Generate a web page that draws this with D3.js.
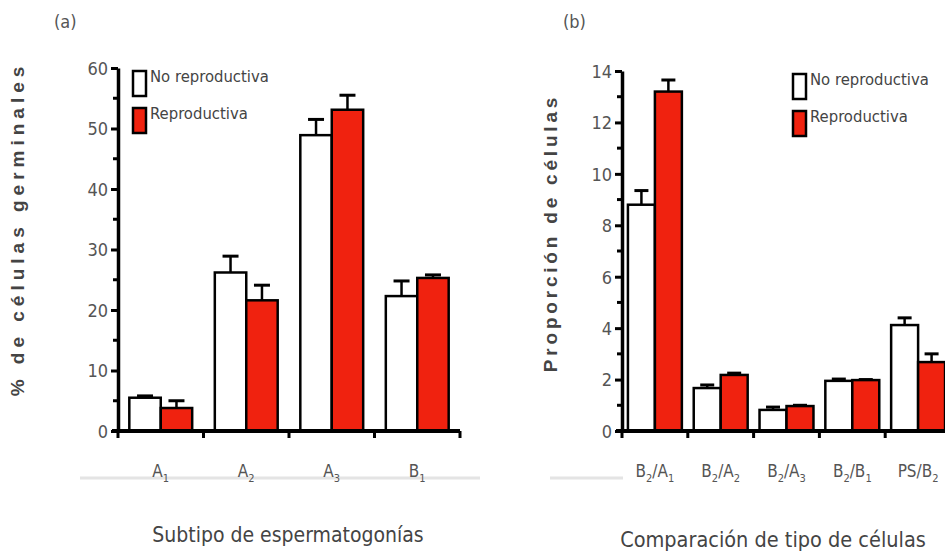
<!DOCTYPE html>
<html><head><meta charset="utf-8">
<script src="https://cdn.jsdelivr.net/npm/d3@7"></script>
<style>
html,body{margin:0;padding:0;background:#fff;}
svg{display:block;}
.narrow{font-family:"DejaVu Sans Condensed","Liberation Sans Narrow",sans-serif;font-stretch:condensed;}
</style>
</head><body>
<svg id="chart" width="945" height="552"></svg>
<script>
// ---------- DATA ----------
const seriesNames = ["No reproductiva", "Reproductiva"];
// Panel (a)
const catsA = [["A","1"],["A","2"],["A","3"],["B","1"]];
const noRepA = [5.5, 26.2, 48.9, 22.3];
const noRepAErr = [0.3, 2.7, 2.6, 2.5];
const repA = [3.8, 21.6, 53.1, 25.3];
const repAErr = [1.2, 2.5, 2.4, 0.5];
const ticksA = [0, 10, 20, 30, 40, 50, 60];
// Panel (b)
const catsB = [["B","2","/A","1"],["B","2","/A","2"],["B","2","/A","3"],["B","2","/B","1"],["PS/B","2"]];
const noRepB = [8.8, 1.67, 0.82, 1.95, 4.12];
const noRepBErr = [0.55, 0.12, 0.11, 0.07, 0.28];
const repB = [13.2, 2.18, 0.97, 1.98, 2.68];
const repBErr = [0.45, 0.07, 0.03, 0.02, 0.32];
const ticksB = [0, 2, 4, 6, 8, 10, 12, 14];

const RED = "#f0220f";
const svg = d3.select("#chart");

function panel(o){
  const g = svg.append("g");
  const keys = o.cats.map((c,i)=>"c"+i);
  const x = d3.scaleBand().domain(keys).range(o.xr).paddingInner(0).paddingOuter(0);
  const xs = d3.scaleBand().domain(["n","r"]).range([0, x.bandwidth()]).paddingInner(0).paddingOuter(o.pad);
  const y = d3.scaleLinear().domain(o.ydom).range(o.yr);

  g.append("line").attr("x1",o.faint[0]).attr("x2",o.faint[1]).attr("y1",478).attr("y2",478)
    .attr("stroke","#e4e4e4").attr("stroke-width",3);

  const data = o.cats.map((c,i)=>({k:keys[i], n:o.n[i], ne:o.ne[i], r:o.r[i], re:o.re[i]}));
  const eb = [];
  data.forEach(d=>{ eb.push({k:d.k,s:"n",v:d.n,e:d.ne}); eb.push({k:d.k,s:"r",v:d.r,e:d.re}); });
  g.selectAll(".err").data(eb).join("g").each(function(d){
    const cx = x(d.k)+xs(d.s)+xs.bandwidth()/2;
    const s = d3.select(this);
    s.append("line").attr("x1",cx).attr("x2",cx).attr("y1",y(d.v)).attr("y2",y(d.v+d.e))
      .attr("stroke","#000").attr("stroke-width",2.5);
    s.append("line").attr("x1",cx-o.cap).attr("x2",cx+o.cap).attr("y1",y(d.v+d.e)).attr("y2",y(d.v+d.e))
      .attr("stroke","#000").attr("stroke-width",3);
  });
  g.selectAll(".bn").data(data).join("rect")
    .attr("x",d=>x(d.k)+xs("n")).attr("width",xs.bandwidth())
    .attr("y",d=>y(d.n)).attr("height",d=>y(0)-y(d.n))
    .attr("fill","#fff").attr("stroke","#000").attr("stroke-width",2.5);
  g.selectAll(".br").data(data).join("rect")
    .attr("x",d=>x(d.k)+xs("r")).attr("width",xs.bandwidth())
    .attr("y",d=>y(d.r)).attr("height",d=>y(0)-y(d.r))
    .attr("fill",RED).attr("stroke","#000").attr("stroke-width",2.5);

  const ya = g.append("g").attr("transform",`translate(${o.xr[0]},0)`)
    .call(d3.axisLeft(y).tickValues(o.ticks).tickSize(7).tickSizeOuter(0).tickPadding(3).tickFormat(d3.format("d")));
  ya.select(".domain").attr("stroke","#000").attr("stroke-width",3.5);
  ya.selectAll(".tick line").attr("stroke","#000").attr("stroke-width",3);
  ya.selectAll(".tick text").attr("class","narrow").attr("font-size",18).attr("fill","#555").attr("dy","0.35em");
  g.selectAll(".minor").data(o.minor).join("line")
    .attr("x1",o.xr[0]-5).attr("x2",o.xr[0]).attr("y1",d=>y(d)).attr("y2",d=>y(d))
    .attr("stroke","#000").attr("stroke-width",3);
  g.append("line").attr("x1",o.xr[0]-6).attr("x2",o.xr[1]).attr("y1",y(0)).attr("y2",y(0))
    .attr("stroke","#000").attr("stroke-width",4);
  const bounds = keys.map(k=>x(k)).concat([o.xr[1]]);
  g.selectAll(".xt").data(bounds).join("line")
    .attr("x1",d=>d).attr("x2",d=>d).attr("y1",y(0)).attr("y2",y(0)+7)
    .attr("stroke","#000").attr("stroke-width",3);
  g.selectAll(".xl").data(o.cats.map((c,i)=>({c,k:keys[i]}))).join("text")
    .attr("class","narrow").attr("x",d=>x(d.k)+x.bandwidth()/2).attr("y",477)
    .attr("text-anchor","middle").attr("font-size",17).attr("fill","#555")
    .each(function(d){
      const t = d3.select(this);
      d.c.forEach((part,j)=>{
        const sub = j%2===1;
        t.append("tspan").text(part).attr("font-size",sub?11:17)
          .attr("dy", sub? 5 : (j>0? -5 : 0));
      });
    });
  g.append("text").attr("x",o.xt[0]).attr("y",o.xt[1]).attr("text-anchor","middle")
    .attr("class","narrow").attr("font-size",o.xfs).attr("fill","#444").text(o.xtitle);
  g.append("text").attr("transform",`translate(${o.yt[0]},${o.yt[1]}) rotate(-90)`)
    .attr("text-anchor","middle").attr("font-family","Liberation Sans, Arial, sans-serif")
    .attr("font-weight","bold").attr("font-size",19).attr("fill","#444")
    .attr("letter-spacing",o.ls).text(o.ytitle);
  g.append("text").attr("x",o.pl[0]).attr("y",o.pl[1]).attr("class","narrow")
    .attr("font-size",18).attr("fill","#555").text(o.plabel);
  const lg = g.append("g");
  seriesNames.forEach((nm,i)=>{
    lg.append("rect").attr("x",o.lg[0]).attr("y",o.lg[1]+i*o.lg[2]).attr("width",13).attr("height",25)
      .attr("fill",i? RED:"#fff").attr("stroke","#000").attr("stroke-width",2.5);
    lg.append("text").attr("class","narrow").attr("x",o.lg[0]+17).attr("y",o.lg[1]+i*o.lg[2]+11)
      .attr("font-size",16.5).attr("fill","#444").text(nm);
  });
}

panel({cats:catsA, n:noRepA, ne:noRepAErr, r:repA, re:repAErr,
  xr:[118,460], pad:0.36, ydom:[0,60], yr:[431,68], ticks:ticksA,
  minor:[5,15,25,35,45,55], cap:8, faint:[80,480],
  xtitle:"Subtipo de espermatogonías", xt:[288,542], xfs:21,
  ytitle:"% de células germinales", yt:[24,229], ls:5,
  plabel:"(a)", pl:[54,28], lg:[133,71,37]});

panel({cats:catsB, n:noRepB, ne:noRepBErr, r:repB, re:repBErr,
  xr:[622,951], pad:0.22, ydom:[0,14], yr:[431,71], ticks:ticksB,
  minor:[1,3,5,7,9,11,13], cap:7, faint:[550,623],
  xtitle:"Comparación de tipo de células", xt:[773,547], xfs:21.5,
  ytitle:"Proporción de células", yt:[557,233], ls:3.8,
  plabel:"(b)", pl:[563,28], lg:[793,74,37]});
</script>
</body></html>
